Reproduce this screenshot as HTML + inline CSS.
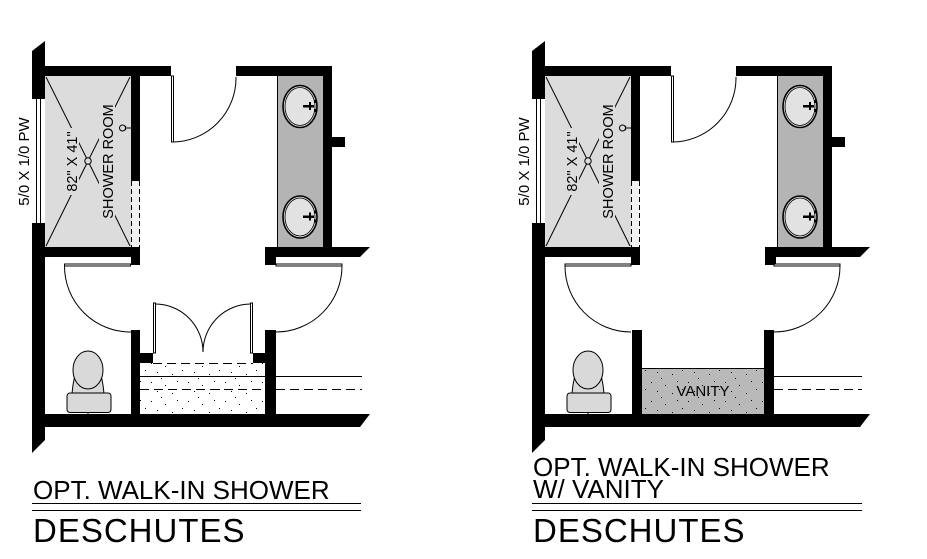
<!DOCTYPE html>
<html><head><meta charset="utf-8"><style>
html,body{margin:0;padding:0;background:#fff;}
svg{display:block;}
text{font-family:"Liberation Sans",Arial,sans-serif;fill:#000;}
</style></head><body>
<svg width="927" height="559" viewBox="0 0 927 559" xmlns="http://www.w3.org/2000/svg">
<defs>
<pattern id="st" patternUnits="userSpaceOnUse" width="37" height="19">
<rect x="3" y="2" width="1" height="1" fill="#000"/>
<rect x="17" y="5" width="1" height="1" fill="#000"/>
<rect x="29" y="1" width="1" height="1" fill="#000"/>
<rect x="9" y="11" width="1" height="1" fill="#000"/>
<rect x="24" y="13" width="1" height="1" fill="#000"/>
<rect x="34" y="9" width="1" height="1" fill="#000"/>
<rect x="13" y="17" width="1" height="1" fill="#000"/>
</pattern>
</defs>
<rect width="927" height="559" fill="#fff"/>

<!-- ================= LEFT PLAN ================= -->
<g id="L">
<!-- shower -->
<rect x="45" y="76" width="86" height="171" fill="#dcdcdc"/>
<g stroke="#000" stroke-width="1">
<line x1="46" y1="77" x2="88" y2="161"/>
<line x1="130" y1="77" x2="88" y2="161"/>
<line x1="46" y1="246" x2="88" y2="161"/>
<line x1="130" y1="246" x2="88" y2="161"/>
</g>
<rect x="64" y="128" width="15" height="67" fill="#dcdcdc"/>
<rect x="99" y="103" width="16" height="117" fill="#dcdcdc"/>
<circle cx="88" cy="161" r="3.2" fill="#dcdcdc" stroke="#000" stroke-width="1"/>
<text transform="translate(77,161.5) rotate(-90)" text-anchor="middle" font-size="14.5">82" X 41"</text>
<text transform="translate(113,161.5) rotate(-90)" text-anchor="middle" font-size="14.5">SHOWER ROOM</text>
<!-- showerhead -->
<path d="M131,128 L126,128 M126,126 Q124,128 126,130" stroke="#000" fill="none" stroke-width="1"/>
<circle cx="122.5" cy="128" r="3" fill="#dcdcdc" stroke="#000" stroke-width="1"/>
<!-- glass -->
<rect x="131" y="180" width="9" height="67" fill="#f2f2f2"/>
<line x1="131" y1="180.5" x2="140" y2="180.5" stroke="#000"/>
<line x1="131.5" y1="181" x2="131.5" y2="247" stroke="#000" stroke-dasharray="5,3"/>
<line x1="139.5" y1="181" x2="139.5" y2="247" stroke="#000" stroke-dasharray="5,3"/>
<!-- window -->
<line x1="36.5" y1="99" x2="36.5" y2="223" stroke="#000"/>
<line x1="40.5" y1="99" x2="40.5" y2="223" stroke="#000"/>
<text transform="translate(29,161.5) rotate(-90)" text-anchor="middle" font-size="15">5/0 X 1/0 PW</text>
<!-- vanity counter -->
<rect x="277" y="76" width="46" height="171" fill="#b4b4b4"/>
<line x1="277.5" y1="76" x2="277.5" y2="247" stroke="#000"/>
<!-- sinks -->
<g stroke="#000" fill="#e2e2e2">
<ellipse cx="300" cy="106.5" rx="17" ry="21" stroke-width="1.6"/>
<ellipse cx="300" cy="106.5" rx="15" ry="19" stroke-width="0.8" fill="none"/>
<ellipse cx="300" cy="217" rx="17" ry="21" stroke-width="1.6"/>
<ellipse cx="300" cy="217" rx="15" ry="19" stroke-width="0.8" fill="none"/>
</g>
<g fill="#000">
<rect x="303" y="105" width="11" height="2.5"/><rect x="309" y="102" width="2" height="8"/><rect x="314" y="100" width="2" height="3"/><rect x="314" y="109" width="2" height="3"/>
<rect x="303" y="215.5" width="11" height="2.5"/><rect x="309" y="212.5" width="2" height="8"/><rect x="314" y="210.5" width="2" height="3"/><rect x="314" y="219.5" width="2" height="3"/>
</g>
<!-- walls -->
<g fill="#000">
<polygon points="32,51 45,41 45,99 32,99"/>
<polygon points="32,223 45,223 45,440 32,453"/>
<rect x="32" y="66" width="139" height="10"/>
<rect x="131" y="66" width="9" height="114"/>
<rect x="32" y="247" width="108" height="10"/>
<rect x="131" y="247" width="9" height="18"/>
<rect x="236" y="66" width="96" height="10"/>
<rect x="323" y="66" width="9" height="181"/>
<rect x="332" y="137" width="13" height="10"/>
<polygon points="265,247 370,247 360,257 276,257 276,265 265,265"/>
<polygon points="45,414 370,414 360,427 45,427"/>
<rect x="131" y="330" width="9" height="84"/>
<rect x="265" y="330" width="11" height="84"/>
</g>
<!-- doors -->
<g stroke="#000" stroke-width="1" fill="#fff">
<rect x="171.5" y="76" width="2" height="66"/>
<path d="M172,142 A64,64 0 0 0 236,77" fill="none"/>
<rect x="64.5" y="264" width="66" height="2"/>
<path d="M64.5,266 A66,66 0 0 0 131,332" fill="none"/>
<rect x="276" y="264" width="66" height="2"/>
<path d="M342,266 A66,66 0 0 1 276,332" fill="none"/>
</g>
<!-- toilet -->
<g stroke="#000" stroke-width="1" fill="#d9d9d9">
<path d="M72,394 Q73,382 75,376 L101,376 Q103,382 104,394 Z"/>
<rect x="67" y="393" width="44" height="19.5" rx="3"/>
<ellipse cx="88" cy="370" rx="15" ry="19"/>
</g>
<line x1="88" y1="412" x2="88" y2="414" stroke="#000"/>
<!-- hall / entry -->
<rect x="140" y="363" width="125" height="51" fill="url(#st)"/>
<g fill="#000">
<rect x="140" y="353" width="13" height="10"/>
<rect x="253" y="353" width="12" height="10"/>
</g>
<g stroke="#000" stroke-width="1" fill="#fff">
<rect x="153.5" y="303" width="2" height="50"/>
<rect x="250.5" y="303" width="2" height="50"/>
<path d="M155.5,304 A48,48 0 0 1 203,352" fill="none"/>
<path d="M250.5,304 A48,48 0 0 0 203,352" fill="none"/>
</g>
<line x1="153" y1="363.5" x2="253" y2="363.5" stroke="#000" stroke-dasharray="9,5"/>
<line x1="140" y1="376.5" x2="265" y2="376.5" stroke="#000"/>
<line x1="276" y1="376.5" x2="362" y2="376.5" stroke="#000"/>
<line x1="140" y1="389.5" x2="265" y2="389.5" stroke="#000" stroke-dasharray="9,5"/>
<line x1="276" y1="389.5" x2="362" y2="389.5" stroke="#000" stroke-dasharray="9,5"/>
</g>
<!-- left labels -->
<text x="33" y="499" font-size="26">OPT. WALK-IN SHOWER</text>
<line x1="32" y1="503.5" x2="361" y2="503.5" stroke="#000"/>
<line x1="32" y1="510.5" x2="361" y2="510.5" stroke="#000"/>
<text x="33" y="542" font-size="33" letter-spacing="1">DESCHUTES</text>

<!-- ================= RIGHT PLAN ================= -->
<g transform="translate(500,0)">
<rect x="45" y="76" width="86" height="171" fill="#dcdcdc"/>
<g stroke="#000" stroke-width="1">
<line x1="46" y1="77" x2="88" y2="161"/>
<line x1="130" y1="77" x2="88" y2="161"/>
<line x1="46" y1="246" x2="88" y2="161"/>
<line x1="130" y1="246" x2="88" y2="161"/>
</g>
<rect x="64" y="128" width="15" height="67" fill="#dcdcdc"/>
<rect x="99" y="103" width="16" height="117" fill="#dcdcdc"/>
<circle cx="88" cy="161" r="3.2" fill="#dcdcdc" stroke="#000" stroke-width="1"/>
<text transform="translate(77,161.5) rotate(-90)" text-anchor="middle" font-size="14.5">82" X 41"</text>
<text transform="translate(113,161.5) rotate(-90)" text-anchor="middle" font-size="14.5">SHOWER ROOM</text>
<path d="M131,128 L126,128 M126,126 Q124,128 126,130" stroke="#000" fill="none" stroke-width="1"/>
<circle cx="122.5" cy="128" r="3" fill="#dcdcdc" stroke="#000" stroke-width="1"/>
<rect x="131" y="180" width="9" height="67" fill="#f2f2f2"/>
<line x1="131" y1="180.5" x2="140" y2="180.5" stroke="#000"/>
<line x1="131.5" y1="181" x2="131.5" y2="247" stroke="#000" stroke-dasharray="5,3"/>
<line x1="139.5" y1="181" x2="139.5" y2="247" stroke="#000" stroke-dasharray="5,3"/>
<line x1="36.5" y1="99" x2="36.5" y2="223" stroke="#000"/>
<line x1="40.5" y1="99" x2="40.5" y2="223" stroke="#000"/>
<text transform="translate(29,161.5) rotate(-90)" text-anchor="middle" font-size="15">5/0 X 1/0 PW</text>
<rect x="277" y="76" width="46" height="171" fill="#b4b4b4"/>
<line x1="277.5" y1="76" x2="277.5" y2="247" stroke="#000"/>
<g stroke="#000" fill="#e2e2e2">
<ellipse cx="300" cy="106.5" rx="17" ry="21" stroke-width="1.6"/>
<ellipse cx="300" cy="106.5" rx="15" ry="19" stroke-width="0.8" fill="none"/>
<ellipse cx="300" cy="217" rx="17" ry="21" stroke-width="1.6"/>
<ellipse cx="300" cy="217" rx="15" ry="19" stroke-width="0.8" fill="none"/>
</g>
<g fill="#000">
<rect x="303" y="105" width="11" height="2.5"/><rect x="309" y="102" width="2" height="8"/><rect x="314" y="100" width="2" height="3"/><rect x="314" y="109" width="2" height="3"/>
<rect x="303" y="215.5" width="11" height="2.5"/><rect x="309" y="212.5" width="2" height="8"/><rect x="314" y="210.5" width="2" height="3"/><rect x="314" y="219.5" width="2" height="3"/>
</g>
<g fill="#000">
<polygon points="32,51 45,41 45,99 32,99"/>
<polygon points="32,223 45,223 45,440 32,453"/>
<rect x="32" y="66" width="139" height="10"/>
<rect x="131" y="66" width="9" height="114"/>
<rect x="32" y="247" width="108" height="10"/>
<rect x="131" y="247" width="9" height="18"/>
<rect x="236" y="66" width="96" height="10"/>
<rect x="323" y="66" width="9" height="181"/>
<rect x="332" y="137" width="13" height="10"/>
<polygon points="265,247 370,247 360,257 276,257 276,265 265,265"/>
<polygon points="45,414 370,414 360,427 45,427"/>
<rect x="132" y="330" width="10" height="84"/>
<rect x="264" y="330" width="10" height="84"/>
</g>
<g stroke="#000" stroke-width="1" fill="#fff">
<rect x="171.5" y="76" width="2" height="66"/>
<path d="M172,142 A64,64 0 0 0 236,77" fill="none"/>
<rect x="65" y="264" width="66" height="2"/>
<path d="M65,266 A66,66 0 0 0 131,332" fill="none"/>
<rect x="274" y="264" width="66" height="2"/>
<path d="M340,266 A66,66 0 0 1 274,332" fill="none"/>
</g>
<g stroke="#000" stroke-width="1" fill="#d9d9d9">
<path d="M72,394 Q73,382 75,376 L101,376 Q103,382 104,394 Z"/>
<rect x="67" y="393" width="44" height="19.5" rx="3"/>
<ellipse cx="88" cy="370" rx="15" ry="19"/>
</g>
<line x1="88" y1="412" x2="88" y2="414" stroke="#000"/>
<!-- vanity -->
<rect x="142" y="368" width="122" height="46" fill="#b9b9b9"/>
<rect x="142" y="368" width="122" height="46" fill="url(#st)"/>
<line x1="142" y1="368.5" x2="264" y2="368.5" stroke="#000"/>
<text x="203" y="396" text-anchor="middle" font-size="15">VANITY</text>
<line x1="274" y1="376.5" x2="362" y2="376.5" stroke="#000"/>
<line x1="274" y1="389.5" x2="362" y2="389.5" stroke="#000" stroke-dasharray="9,5"/>
</g>
<!-- right labels -->
<text x="533" y="476" font-size="26">OPT. WALK-IN SHOWER</text>
<text x="533" y="498" font-size="26">W/ VANITY</text>
<line x1="532" y1="503.5" x2="862" y2="503.5" stroke="#000"/>
<line x1="532" y1="510.5" x2="862" y2="510.5" stroke="#000"/>
<text x="533" y="542" font-size="33" letter-spacing="1">DESCHUTES</text>
</svg>
</body></html>
